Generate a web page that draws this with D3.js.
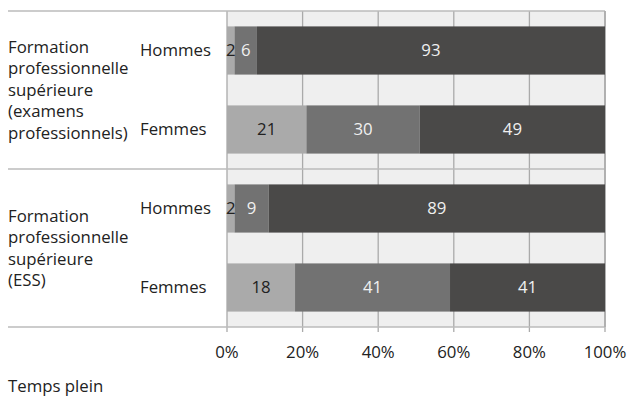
<!DOCTYPE html>
<html lang="fr">
<head>
  <meta charset="UTF-8">
  <title>Temps plein</title>
  <script src="https://d3js.org/d3.v7.min.js"></script>
  <style>
    body { margin: 0; background: #fff; font-family: 'Open Sans', 'DejaVu Sans', sans-serif; }
    svg text { fill: #222; font-size: 16.8px; }
  </style>
</head>
<body>
  <svg width="630" height="398"></svg>
  <script>
    // data
    const groups = [
      ["Formation", "professionnelle", "supérieure", "(examens", "professionnels)"],
      ["Formation", "professionnelle", "supérieure", "(ESS)"]
    ];
    const sexes = ["Hommes", "Femmes"];
    const rows = ["g1-Hommes", "g1-Femmes", "g2-Hommes", "g2-Femmes"];
    const part1 = [2, 21, 2, 18];
    const part2 = [6, 30, 9, 41];
    const part3 = [93, 49, 89, 41];
    const ticks = [0, 0.2, 0.4, 0.6, 0.8, 1];
    const colors = ["#aaaaaa", "#727272", "#4a4948"];
    const labelColors = ["#222", "#f0f0f0", "#f0f0f0"];

    const table = rows.map((r, i) => ({ row: r, a: part1[i], b: part2[i], c: part3[i] }));
    const stack = d3.stack().keys(["a", "b", "c"]).offset(d3.stackOffsetExpand);
    const series = stack(table);

    const pLeft = 227, pRight = 605, pTop = 11, pBottom = 327;
    const x = d3.scaleLinear().domain([0, 1]).range([pLeft, pRight]);
    const y = d3.scaleBand().domain(rows).range([pTop, pBottom])
      .paddingInner(0.39).paddingOuter(0.195);

    const svg = d3.select("svg");

    // plot background
    svg.append("rect")
      .attr("x", pLeft).attr("y", pTop)
      .attr("width", pRight - pLeft).attr("height", pBottom - pTop)
      .attr("fill", "#efefef");

    // vertical grid
    svg.selectAll("line.grid")
      .data(ticks)
      .join("line")
      .attr("class", "grid")
      .attr("x1", d => x(d)).attr("x2", d => x(d))
      .attr("y1", pTop).attr("y2", pBottom + 5)
      .attr("stroke", "#aaa").attr("stroke-width", 1.3);

    // horizontal separators
    const midY = (y(rows[1]) + y.bandwidth() + y(rows[2])) / 2;
    [pTop, midY, pBottom].forEach(yy => {
      svg.append("line")
        .attr("x1", 8).attr("x2", pRight)
        .attr("y1", yy).attr("y2", yy)
        .attr("stroke", "#bbb").attr("stroke-width", 1.5);
    });
    svg.append("line")
      .attr("x1", pRight).attr("x2", pRight).attr("y1", pTop).attr("y2", pBottom)
      .attr("stroke", "#aaa").attr("stroke-width", 1.5);

    // bars
    const layers = svg.selectAll("g.layer")
      .data(series)
      .join("g")
      .attr("class", "layer")
      .attr("fill", (d, i) => colors[i]);

    layers.selectAll("rect")
      .data(d => d)
      .join("rect")
      .attr("x", d => x(d[0]))
      .attr("width", d => x(d[1]) - x(d[0]))
      .attr("y", d => y(d.data.row))
      .attr("height", y.bandwidth());

    // value labels
    series.forEach((s, i) => {
      svg.selectAll(null)
        .data(s)
        .join("text")
        .attr("x", d => (x(d[0]) + x(d[1])) / 2)
        .attr("y", d => y(d.data.row) + y.bandwidth() / 2)
        .attr("dy", "0.35em")
        .attr("text-anchor", "middle")
        .style("fill", labelColors[i])
        .text(d => d.data[s.key]);
    });

    // sex labels
    svg.selectAll("text.sex")
      .data(rows)
      .join("text")
      .attr("class", "sex")
      .attr("x", 140)
      .attr("y", d => y(d) + y.bandwidth() / 2)
      .attr("dy", "0.35em")
      .text((d, i) => sexes[i % 2]);

    // group labels
    groups.forEach((lines, gi) => {
      const g0 = gi === 0 ? pTop : midY;
      const g1 = gi === 0 ? midY : pBottom;
      const cy = (g0 + g1) / 2;
      const lh = 21.5;
      const t = svg.append("text").attr("x", 8);
      lines.forEach((ln, li) => {
        t.append("tspan")
          .attr("x", 8)
          .attr("y", cy + (li - (lines.length - 1) / 2) * lh)
          .attr("dy", "0.35em")
          .text(ln);
      });
    });

    // x axis labels
    svg.selectAll("text.tick")
      .data(ticks)
      .join("text")
      .attr("class", "tick")
      .attr("x", d => x(d))
      .attr("y", 352)
      .attr("dy", "0.35em")
      .attr("text-anchor", "middle")
      .text(d3.format(".0%"));

    svg.append("text")
      .attr("x", 8).attr("y", 386).attr("dy", "0.35em")
      .text("Temps plein");
  </script>
</body>
</html>
